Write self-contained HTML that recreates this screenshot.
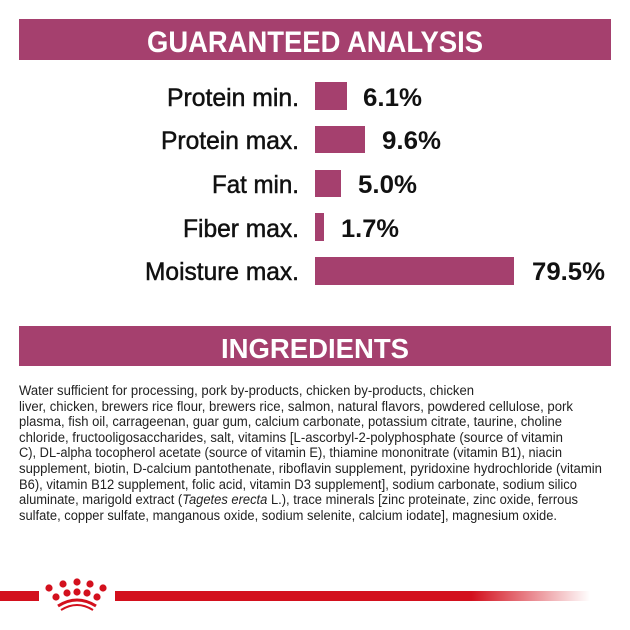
<!DOCTYPE html>
<html><head><meta charset="utf-8"><style>
html,body{margin:0;padding:0;background:#fff;width:630px;height:630px;overflow:hidden}
</style></head><body>
<svg width="630" height="630" viewBox="0 0 630 630" xmlns="http://www.w3.org/2000/svg" font-family="Liberation Sans, sans-serif">
<defs><linearGradient id="fade" x1="115" x2="590" gradientUnits="userSpaceOnUse"><stop offset="0" stop-color="#d3101d"/><stop offset="0.75" stop-color="#d3101d"/><stop offset="1" stop-color="#d3101d" stop-opacity="0"/></linearGradient></defs>
<rect x="19" y="19" width="592" height="41" fill="#a5406e"/>
<text x="147" y="52" fill="#fff" font-weight="bold" font-size="30" textLength="336" lengthAdjust="spacingAndGlyphs">GUARANTEED ANALYSIS</text>
<g fill="#a5406e">
<rect x="315" y="82" width="32" height="28"/>
<rect x="315" y="126" width="50" height="27"/>
<rect x="315" y="170" width="26" height="27"/>
<rect x="315" y="213" width="9" height="28"/>
<rect x="315" y="257" width="199" height="28"/>
</g>
<g fill="#111" stroke="#111" stroke-width="0.5" font-size="25">
<text x="167" y="106" textLength="132" lengthAdjust="spacingAndGlyphs">Protein min.</text>
<text x="161" y="149" textLength="138" lengthAdjust="spacingAndGlyphs">Protein max.</text>
<text x="212" y="193" textLength="87" lengthAdjust="spacingAndGlyphs">Fat min.</text>
<text x="183" y="237" textLength="116" lengthAdjust="spacingAndGlyphs">Fiber max.</text>
<text x="145" y="280" textLength="154" lengthAdjust="spacingAndGlyphs">Moisture max.</text>
</g>
<g fill="#111" font-size="25" font-weight="bold">
<text x="363" y="106" textLength="59" lengthAdjust="spacingAndGlyphs">6.1%</text>
<text x="382" y="149" textLength="59" lengthAdjust="spacingAndGlyphs">9.6%</text>
<text x="358" y="193" textLength="59" lengthAdjust="spacingAndGlyphs">5.0%</text>
<text x="341" y="237" textLength="58" lengthAdjust="spacingAndGlyphs">1.7%</text>
<text x="532" y="280" textLength="73" lengthAdjust="spacingAndGlyphs">79.5%</text>
</g>
<rect x="19" y="326" width="592" height="40" fill="#a5406e"/>
<text x="221" y="358" fill="#fff" font-weight="bold" font-size="28" textLength="188" lengthAdjust="spacingAndGlyphs">INGREDIENTS</text>
<g fill="#222" font-size="13.5">
<text x="19" y="395" textLength="455" lengthAdjust="spacingAndGlyphs">Water sufficient for processing, pork by-products, chicken by-products, chicken</text>
<text x="19" y="411" textLength="554" lengthAdjust="spacingAndGlyphs">liver, chicken, brewers rice flour, brewers rice, salmon, natural flavors, powdered cellulose, pork</text>
<text x="19" y="426" textLength="543" lengthAdjust="spacingAndGlyphs">plasma, fish oil, carrageenan, guar gum, calcium carbonate, potassium citrate, taurine, choline</text>
<text x="19" y="442" textLength="544" lengthAdjust="spacingAndGlyphs">chloride, fructooligosaccharides, salt, vitamins [L-ascorbyl-2-polyphosphate (source of vitamin</text>
<text x="19" y="457" textLength="543" lengthAdjust="spacingAndGlyphs">C), DL-alpha tocopherol acetate (source of vitamin E), thiamine mononitrate (vitamin B1), niacin</text>
<text x="19" y="473" textLength="583" lengthAdjust="spacingAndGlyphs">supplement, biotin, D-calcium pantothenate, riboflavin supplement, pyridoxine hydrochloride (vitamin</text>
<text x="19" y="489" textLength="558" lengthAdjust="spacingAndGlyphs">B6), vitamin B12 supplement, folic acid, vitamin D3 supplement], sodium carbonate, sodium silico</text>
<text x="19" y="504" textLength="559" lengthAdjust="spacingAndGlyphs">aluminate, marigold extract (<tspan font-style="italic">Tagetes erecta</tspan> L.), trace minerals [zinc proteinate, zinc oxide, ferrous</text>
<text x="19" y="520" textLength="538" lengthAdjust="spacingAndGlyphs">sulfate, copper sulfate, manganous oxide, sodium selenite, calcium iodate], magnesium oxide.</text>
</g>
<rect x="0" y="591" width="39" height="10" fill="#d3101d"/>
<rect x="115" y="591" width="475" height="10" fill="url(#fade)"/>
<g fill="#d3101d">
<circle cx="49" cy="588" r="3.6"/><circle cx="63" cy="584" r="3.6"/><circle cx="77" cy="582" r="3.6"/><circle cx="90" cy="584" r="3.6"/><circle cx="103" cy="588" r="3.6"/>
<circle cx="56" cy="597" r="3.6"/><circle cx="67" cy="593" r="3.6"/><circle cx="77" cy="592" r="3.6"/><circle cx="87" cy="593" r="3.6"/><circle cx="97" cy="597" r="3.6"/>
</g>
<path d="M58 606 Q77 594 96 606" stroke="#d3101d" stroke-width="3" fill="none"/>
<path d="M61 610 Q77 600 93 610" stroke="#d3101d" stroke-width="2" fill="none"/>
</svg>
</body></html>
